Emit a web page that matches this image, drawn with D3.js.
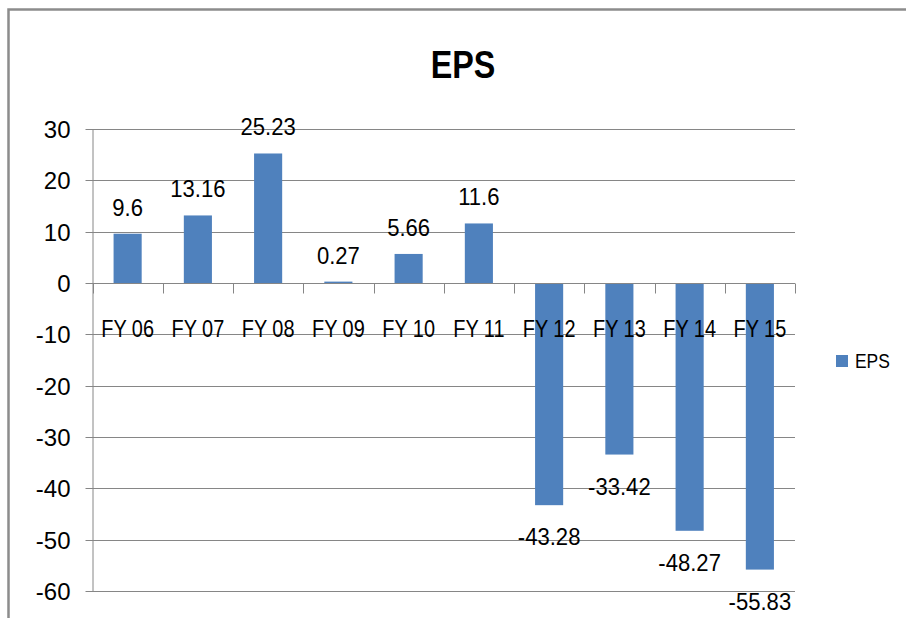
<!DOCTYPE html>
<html>
<head>
<meta charset="utf-8">
<script src="https://cdn.jsdelivr.net/npm/d3@7"></script>
<style>
  html, body { margin: 0; padding: 0; background: #fff; }
  svg { display: block; }
  text { font-family: "Liberation Sans", Arial, sans-serif; fill: #000; }
</style>
</head>
<body>
<svg id="chart" width="906" height="618"></svg>
<script>
// EPS by fiscal year
const categories = ["FY 06", "FY 07", "FY 08", "FY 09", "FY 10", "FY 11", "FY 12", "FY 13", "FY 14", "FY 15"];
const epsValues = [9.6, 13.16, 25.23, 0.27, 5.66, 11.6, -43.28, -33.42, -48.27, -55.83];
const yTicks = [30, 20, 10, 0, -10, -20, -30, -40, -50, -60];
const seriesName = "EPS";
const chartTitle = "EPS";

const svg = d3.select("#chart");
const W = 906, H = 618;
const plot = { left: 92.5, right: 795, top: 129, bottom: 591 };
const barColor = "#4F81BD";
const gridColor = "#868686";
const narrow = 0.83; // horizontal squeeze for the condensed lettering

// outer frame (top and left edges)
svg.append("path")
  .attr("d", `M8.5,${H} L8.5,9.5 L${W},9.5`)
  .attr("fill", "none")
  .attr("stroke", "#8c8c8c")
  .attr("stroke-width", 2.5);

const x = d3.scaleBand()
  .domain(categories)
  .range([plot.left, plot.right])
  .paddingInner(0.6)
  .paddingOuter(0.3);

const xb = d3.scaleBand().domain(categories).range([plot.left, plot.right]);

const y = d3.scaleLinear()
  .domain([-60, 30])
  .range([plot.bottom, plot.top]);

// horizontal gridlines
svg.append("g")
  .selectAll("line")
  .data(yTicks)
  .join("line")
  .attr("x1", plot.left - 7)
  .attr("x2", plot.right)
  .attr("y1", d => Math.round(y(d)) + 0.5)
  .attr("y2", d => Math.round(y(d)) + 0.5)
  .attr("stroke", gridColor)
  .attr("stroke-width", 1);

// value axis
const yAxis = d3.axisLeft(y).tickValues(yTicks).tickSize(0).tickPadding(22)
  .tickFormat(d => String(d));
const yg = svg.append("g")
  .attr("transform", `translate(${plot.left},0)`)
  .call(yAxis);
yg.select(".domain").attr("stroke", gridColor).attr("stroke-width", 1);
yg.selectAll("text").attr("font-size", 24).attr("dy", "0.35em")
  .style("font-family", "'Liberation Sans', Arial, sans-serif");

// bars
svg.append("g")
  .selectAll("rect")
  .data(epsValues)
  .join("rect")
  .attr("x", (d, i) => x(categories[i]))
  .attr("width", x.bandwidth())
  .attr("y", d => y(Math.max(0, d)))
  .attr("height", d => Math.abs(y(d) - y(0)))
  .attr("fill", barColor);

// category axis along zero line
const zeroY = Math.round(y(0)) + 0.5;
svg.append("line")
  .attr("x1", plot.left).attr("x2", plot.right)
  .attr("y1", zeroY).attr("y2", zeroY)
  .attr("stroke", gridColor);
svg.append("g")
  .selectAll("line")
  .data(d3.range(categories.length + 1))
  .join("line")
  .attr("x1", i => Math.round(plot.left + i * xb.step()) + 0.5)
  .attr("x2", i => Math.round(plot.left + i * xb.step()) + 0.5)
  .attr("y1", zeroY)
  .attr("y2", zeroY + 10)
  .attr("stroke", gridColor);

svg.append("g")
  .selectAll("text")
  .data(categories)
  .join("text")
  .attr("transform", d => `translate(${xb(d) + xb.bandwidth() / 2},${y(0) + 54}) scale(${narrow},1)`)
  .attr("text-anchor", "middle")
  .attr("font-size", 24)
  .text(d => d);

// data labels
svg.append("g")
  .selectAll("text")
  .data(epsValues)
  .join("text")
  .attr("transform", (d, i) => {
    const cx = x(categories[i]) + x.bandwidth() / 2;
    const ty = d >= 0 ? y(d) - 18 : y(d) + 40;
    return `translate(${cx},${ty}) scale(0.92,1)`;
  })
  .attr("text-anchor", "middle")
  .attr("font-size", 24)
  .text(d => d);

// title
svg.append("text")
  .attr("transform", `translate(463,78) scale(0.85,1)`)
  .attr("text-anchor", "middle")
  .attr("font-size", 38)
  .attr("font-weight", "bold")
  .text(chartTitle);

// legend
const lg = svg.append("g").attr("transform", "translate(836,355)");
lg.append("rect").attr("width", 12).attr("height", 12).attr("fill", barColor);
lg.append("text").attr("transform", `translate(19,13) scale(${narrow},1)`)
  .attr("font-size", 21).text(seriesName);
</script>
</body>
</html>
